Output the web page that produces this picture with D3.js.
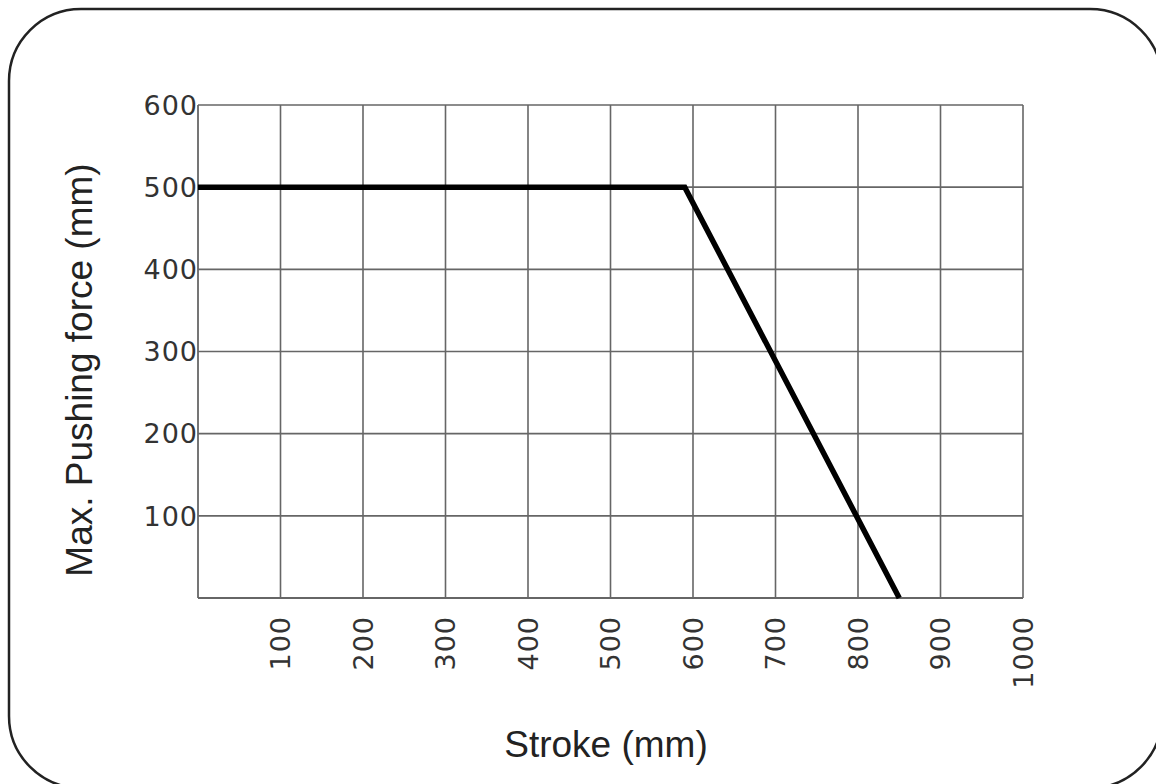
<!DOCTYPE html>
<meta charset="utf-8">
<script src="https://d3js.org/d3.v7.js"></script>
<style>
  body { margin: 0; background: #fff; }
</style>
<div id="my_dataviz"></div>
<script>

// curve points: stroke (mm) vs max pushing force
var stroke = [0, 590, 850];
var force = [500, 500, 0];

var xTicks = [100, 200, 300, 400, 500, 600, 700, 800, 900, 1000];
var yTicks = [100, 200, 300, 400, 500, 600];

var W = 1156, H = 784;
var margin = {top: 105, right: 133, bottom: 186, left: 198},
    width = W - margin.left - margin.right,
    height = H - margin.top - margin.bottom;

var root = d3.select("#my_dataviz")
  .append("svg")
    .attr("width", W)
    .attr("height", H);

// rounded outer frame
root.append("rect")
  .attr("x", 9).attr("y", 9)
  .attr("width", 1153).attr("height", 779)
  .attr("rx", 72).attr("ry", 72)
  .style("fill", "none")
  .style("stroke", "#222")
  .style("stroke-width", 2.5);

var svg = root.append("g")
  .attr("transform", "translate(" + margin.left + "," + margin.top + ")");

var x = d3.scaleLinear().domain([0, 1000]).range([0, width]);
var y = d3.scaleLinear().domain([0, 600]).range([height, 0]);

// grid
svg.append("g")
  .selectAll("line")
  .data(xTicks)
  .enter().append("line")
    .attr("x1", d => x(d)).attr("x2", d => x(d))
    .attr("y1", 0).attr("y2", height)
    .style("stroke", "#666").style("stroke-width", 1.6);

svg.append("g")
  .selectAll("line")
  .data(yTicks)
  .enter().append("line")
    .attr("x1", 0).attr("x2", width)
    .attr("y1", d => y(d)).attr("y2", d => y(d))
    .style("stroke", "#666").style("stroke-width", 1.6);

// axis frame lines
svg.append("line")
  .attr("x1", 0).attr("x2", 0).attr("y1", 0).attr("y2", height)
  .style("stroke", "#666").style("stroke-width", 1.8);
svg.append("line")
  .attr("x1", 0).attr("x2", width).attr("y1", height).attr("y2", height)
  .style("stroke", "#666").style("stroke-width", 1.8);

// tick labels
svg.append("g")
  .selectAll("text")
  .data(yTicks)
  .enter().append("text")
    .attr("x", 0)
    .attr("y", d => y(d))
    .attr("dy", "0.36em")
    .attr("text-anchor", "end")
    .style("font-family", "DejaVu Sans")
    .style("font-size", "27px")
    .style("letter-spacing", "1px")
    .style("fill", "#333")
    .text(d => d);

svg.append("g")
  .selectAll("text")
  .data(xTicks)
  .enter().append("text")
    .attr("transform", d => "translate(" + x(d) + "," + (height + 18) + ") rotate(-90)")
    .attr("dy", "0.36em")
    .attr("text-anchor", "end")
    .style("font-family", "DejaVu Sans")
    .style("font-size", "27px")
    .style("letter-spacing", "1px")
    .style("fill", "#333")
    .text(d => d);

// the curve
svg.append("path")
  .datum(stroke.map((s, i) => [s, force[i]]))
  .attr("d", d3.line().x(d => x(d[0])).y(d => y(d[1])))
  .style("fill", "none")
  .style("stroke", "#000")
  .style("stroke-width", 5.5);

// axis titles
root.append("text")
  .attr("x", 606)
  .attr("y", 757)
  .attr("text-anchor", "middle")
  .style("font-family", "Liberation Sans, Arial")
  .style("font-size", "37px")
  .style("fill", "#222")
  .text("Stroke (mm)");

root.append("text")
  .attr("transform", "translate(92,370) rotate(-90)")
  .attr("text-anchor", "middle")
  .style("font-family", "Liberation Sans, Arial")
  .style("font-size", "37px")
  .style("fill", "#222")
  .text("Max. Pushing force (mm)");

</script>
